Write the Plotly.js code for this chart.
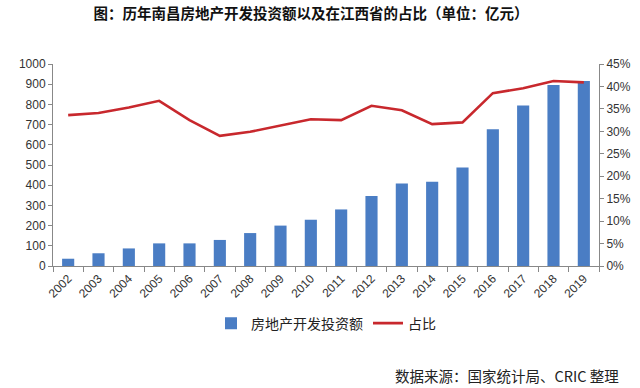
<!DOCTYPE html>
<html>
<head>
<meta charset="utf-8">
<script src="https://cdn.plot.ly/plotly-3.0.1.min.js"></script>
<style>html,body{margin:0;padding:0;background:#fff;}#chart{width:640px;height:388px;}</style>
</head>
<body>
<div id="chart"></div>
<script>
var years = ['2002','2003','2004','2005','2006','2007','2008','2009','2010','2011','2012','2013','2014','2015','2016','2017','2018','2019'];
var investment = [36, 63, 87, 112, 112, 129, 163, 200, 229, 280, 347, 408, 417, 488, 677, 794, 896, 916];
var share = [0.336, 0.341, 0.353, 0.368, 0.325, 0.290, 0.299, 0.313, 0.327, 0.325, 0.357, 0.347, 0.316, 0.320, 0.385, 0.396, 0.412, 0.409];
var seriesNames = ['房地产开发投资额', '占比'];

var cjk = '"Noto Sans CJK SC", "Liberation Sans", sans-serif';
var tickFont = {family: '"Liberation Sans", Arial, sans-serif', size: 12, color: '#333'};

var traces = [
  {type: 'bar', x: years, y: investment, name: seriesNames[0], marker: {color: '#4a7dc4'}, width: 0.4, yaxis: 'y'},
  {type: 'scatter', mode: 'lines', x: years, y: share, name: seriesNames[1], line: {color: '#c8282d', width: 2.6}, yaxis: 'y2'}
];

var layout = {
  width: 640, height: 388,
  margin: {l: 53, r: 41, t: 64, b: 122},
  paper_bgcolor: '#fff', plot_bgcolor: '#fff',
  showlegend: true,
  title: {text: '图：历年南昌房地产开发投资额以及在江西省的占比（单位：亿元）', font: {family: cjk, size: 14.5, color: '#111', weight: 'bold'}, x: 0.486, xanchor: 'center', y: 0.963, yanchor: 'middle'},
  xaxis: {type: 'category', tickangle: -45, tickfont: tickFont, showline: true, linecolor: '#888', ticks: 'outside', ticklen: 5, tickcolor: '#888', tickson: 'boundaries', showgrid: false, zeroline: false},
  yaxis: {range: [0, 1000], dtick: 100, tickfont: tickFont, showline: true, linecolor: '#888', ticks: 'outside', ticklen: 4, tickcolor: '#888', showgrid: false, zeroline: false},
  yaxis2: {range: [0, 0.45], dtick: 0.05, tickformat: '.0%', overlaying: 'y', side: 'right', tickfont: tickFont, showline: true, linecolor: '#888', ticks: 'outside', ticklen: 4, tickcolor: '#888', showgrid: false, zeroline: false},
  legend: {orientation: 'h', x: 0.5, xanchor: 'center', y: -0.285, yanchor: 'middle', font: {family: cjk, size: 14, color: '#222'}, itemwidth: 30},
  bargap: 0.6,
  annotations: [
    {text: '数据来源：国家统计局、CRIC 整理', xref: 'paper', yref: 'paper', x: 1.04, xanchor: 'right', y: -0.54, yanchor: 'middle', showarrow: false, font: {family: cjk, size: 14.5, color: '#222'}}
  ]
};

Plotly.newPlot('chart', traces, layout, {displayModeBar: false, staticPlot: true});
</script>
</body>
</html>
